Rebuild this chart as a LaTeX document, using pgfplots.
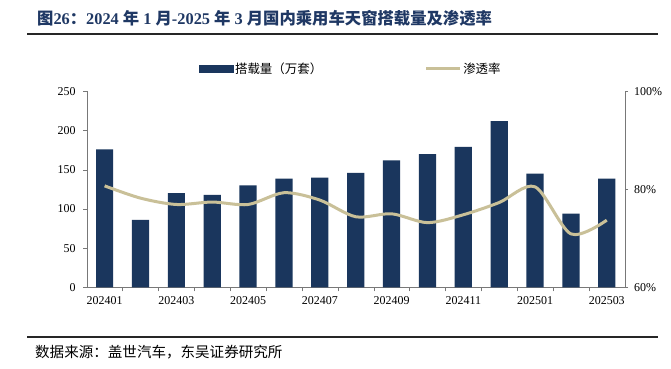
\documentclass[border=0pt]{standalone}
\usepackage{pgfplots}
\pgfplotsset{compat=1.18}
\usepackage{fontspec}
\setmainfont{Liberation Serif}
\newfontfamily\cjk{Noto Sans CJK SC}
\definecolor{barc}{RGB}{26,54,93}
\definecolor{linec}{RGB}{201,192,152}
\definecolor{axc}{RGB}{120,120,120}
\definecolor{titlec}{RGB}{31,56,100}
\begin{document}
\begin{tikzpicture}[x=1bp,y=1bp]
\useasboundingbox (0,0) rectangle (671,368);
\clip (0,0) rectangle (671,368);
\fill[white] (0,0) rectangle (671,368);
% title
\node[anchor=west, inner sep=0, text=titlec, font=\bfseries\fontsize{16.4}{17}\selectfont] at (37,350)
 {{\cjk 图}26{\cjk ：}2024 {\cjk 年} 1 {\cjk 月}-2025 {\cjk 年} 3 {\cjk 月国内乘用车天窗搭载量及渗透率}};
\draw[line width=2bp, black!85] (27,334) -- (658,334);
\draw[line width=2bp, black!85] (27,31.3) -- (658,31.3);
\node[anchor=west, inner sep=0, font=\cjk\fontsize{14.6}{15}\selectfont] at (35,16) {数据来源：盖世汽车，东吴证券研究所};
\begin{axis}[
  at={(86.7bp,80.7bp)}, anchor=south west, scale only axis,
  width=538bp, height=196bp,
  xmin=-0.5, xmax=14.5, ymin=0, ymax=250,
  ytick={0,50,...,250},
  axis y line*=left, axis x line*=bottom,
  axis line style={axc},
  tick align=outside, major tick length=3.5bp, minor tick length=4bp,
  tick style={axc},
  xtick={0,2,...,14},
  xticklabels={202401,202403,202405,202407,202409,202411,202501,202503},
  major x tick style={draw=none},
  minor xtick={0.5,1.5,...,13.5},
  minor x tick style={axc},
  /pgf/number format/assume math mode=true,
  tick label style={font=\fontsize{12}{12}\selectfont, text=black},
  xticklabel style={yshift=-2bp},
  yticklabel style={xshift=-4bp},
]
\addplot[ybar, bar width=0.48, fill=barc, draw=none] coordinates {
(0,176) (1,86) (2,120) (3,118) (4,130) (5,138.5) (6,140) (7,146)
(8,162) (9,170) (10,179) (11,212) (12,145) (13,94) (14,138.5)};
\end{axis}
\begin{axis}[
  at={(86.7bp,80.7bp)}, anchor=south west, scale only axis,
  width=538bp, height=196bp,
  xmin=-0.5, xmax=14.5, ymin=60, ymax=100,
  ytick={60,80,100},
  yticklabel={\pgfmathprintnumber{\tick}\%},
  axis y line*=right, axis x line=none,
  axis line style={axc},
  tick align=outside, major tick length=3.5bp,
  tick style={axc},
  /pgf/number format/assume math mode=true,
  tick label style={font=\fontsize{12}{12}\selectfont, text=black},
  yticklabel style={xshift=2.5bp},
  legend columns=2,
  legend style={at={(0.2087,1.1138)}, anchor=west, draw=none, fill=none,
    inner sep=0pt, font=\cjk\fontsize{12.5}{12.5}\selectfont,
    nodes={inner sep=1.5bp},
    /tikz/every even column/.append style={column sep=101bp}},
]
\addlegendimage{legend image code/.code={\fill[barc] (0bp,-3.5bp) rectangle (34bp,3.5bp);}}
\addlegendentry{搭载量（万套）}
\addplot[linec, line width=3bp, smooth, tension=0.5,
  legend image code/.code={\draw[linec,line width=3bp] (0bp,0bp) -- (34bp,0bp);}] coordinates {
(0,80.7) (1,78.2) (2,76.9) (3,77.4) (4,76.9) (5,79.3) (6,77.8) (7,74.4)
(8,75.0) (9,73.2) (10,74.8) (11,77.3) (12,80.5) (13,70.9) (14,73.7)};
\addlegendentry{渗透率}
\end{axis}
\end{tikzpicture}
\end{document}
